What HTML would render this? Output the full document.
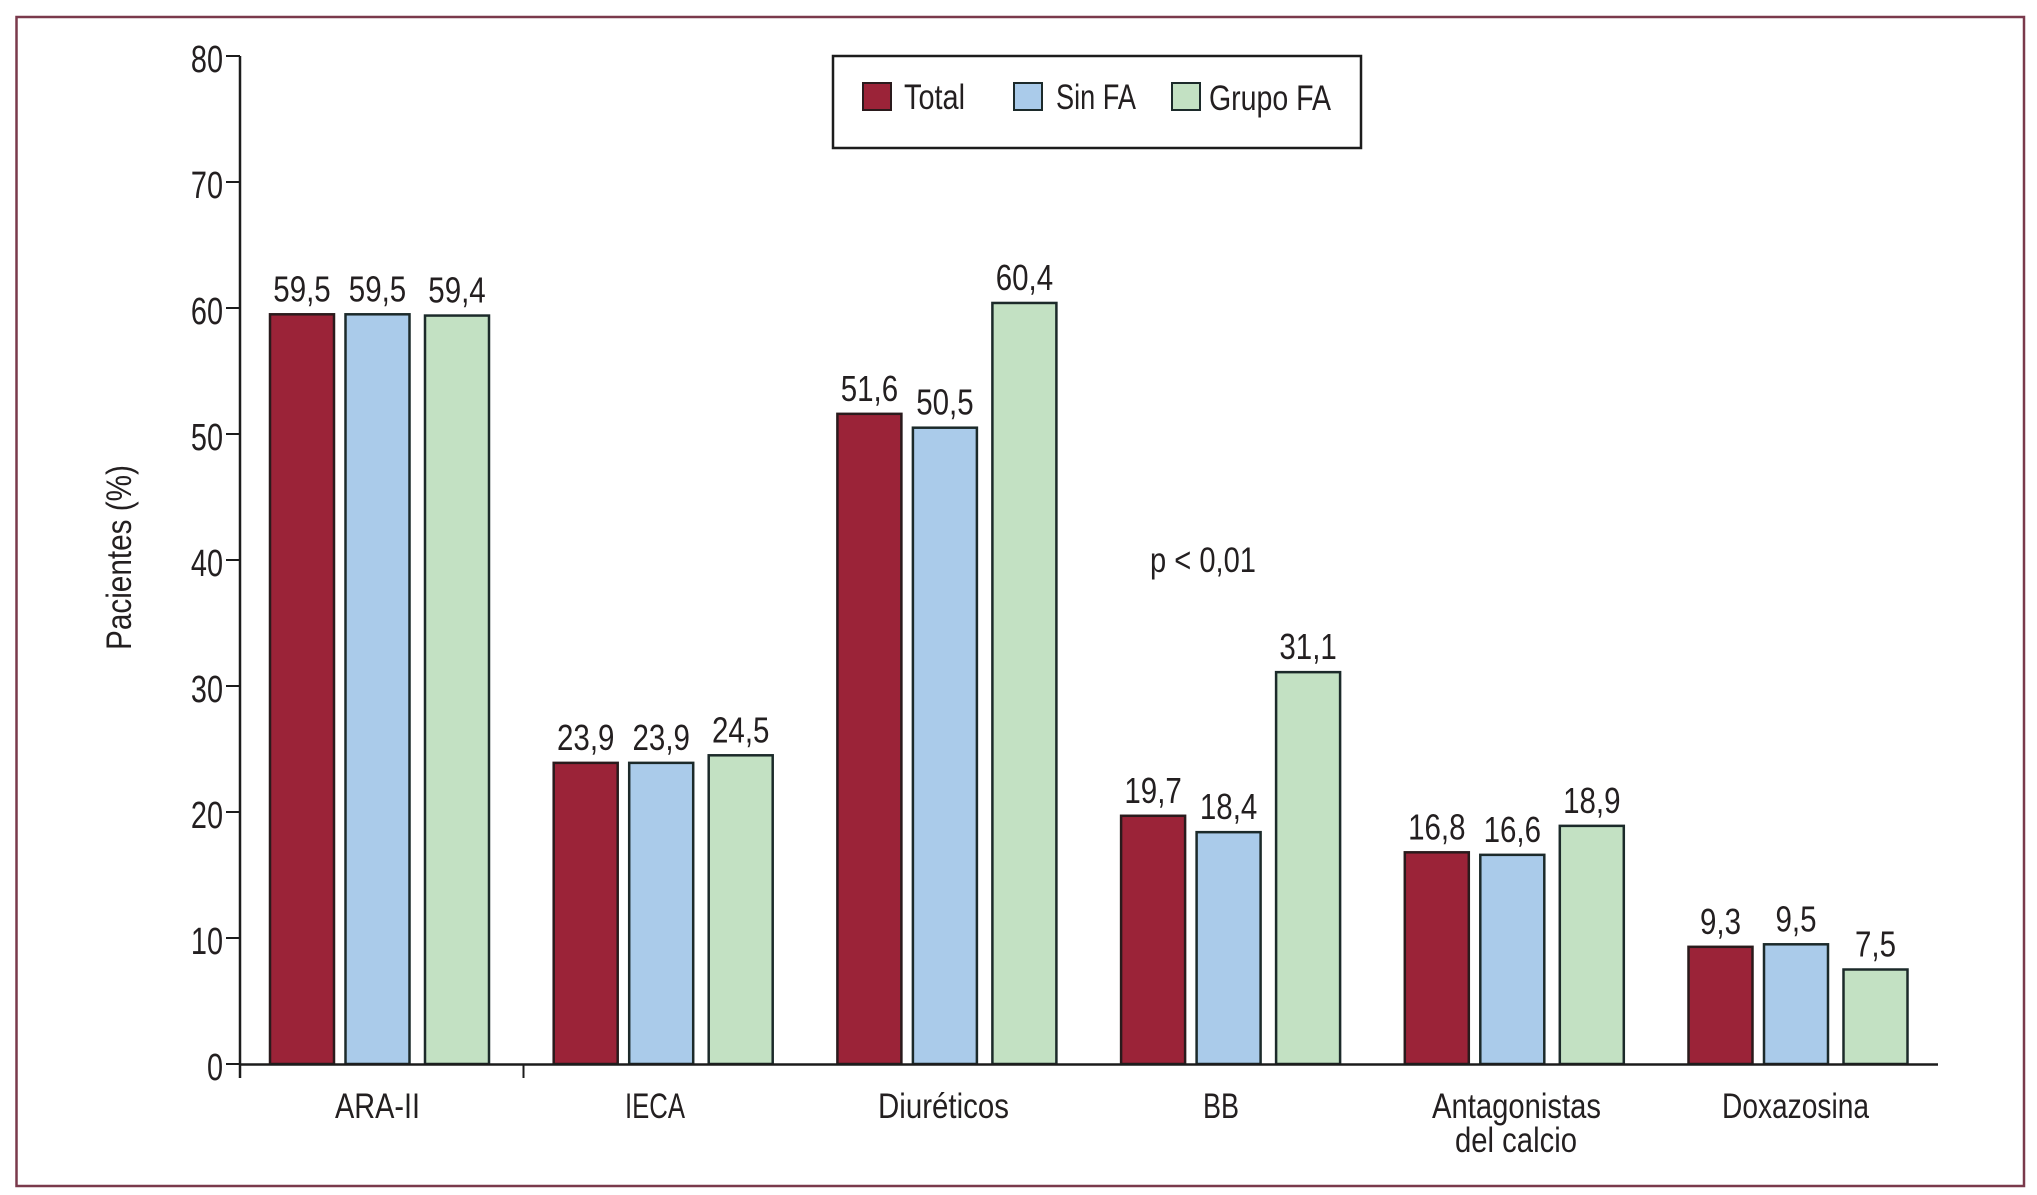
<!DOCTYPE html>
<html lang="es">
<head>
<meta charset="utf-8">
<title>Pacientes (%) por tratamiento</title>
<style>
html,body{margin:0;padding:0;background:#fff;}
svg{display:block;}
text{font-family:"Liberation Sans",sans-serif;fill:#231f20;font-size:35px;}
</style>
</head>
<body>
<svg id="chart" xmlns="http://www.w3.org/2000/svg" width="2037" height="1195" viewBox="0 0 2037 1195">
  <rect x="0" y="0" width="2037" height="1195" fill="#ffffff"/>
  <rect x="16.5" y="17" width="2007.5" height="1169" fill="none" stroke="#7a3a4c" stroke-width="2.5"/>

  <g id="bars"></g>
  <g id="values"></g>
  <g id="y-axis"></g>

  <line x1="240" y1="1064.5" x2="1938" y2="1064.5" stroke="#1c1c1c" stroke-width="2.5"/>
  <line x1="523.5" y1="1064" x2="523.5" y2="1078" stroke="#1c1c1c" stroke-width="2"/>

  <text transform="translate(131,650) rotate(-90)" textLength="185" lengthAdjust="spacingAndGlyphs">Pacientes (%)</text>

  <text x="335" y="1118" textLength="85" lengthAdjust="spacingAndGlyphs">ARA-II</text>
  <text x="625" y="1118" textLength="60" lengthAdjust="spacingAndGlyphs">IECA</text>
  <text x="878" y="1118" textLength="131" lengthAdjust="spacingAndGlyphs">Diuréticos</text>
  <text x="1203" y="1118" textLength="36" lengthAdjust="spacingAndGlyphs">BB</text>
  <text x="1432" y="1118" textLength="169" lengthAdjust="spacingAndGlyphs">Antagonistas</text>
  <text x="1455" y="1152" textLength="122" lengthAdjust="spacingAndGlyphs">del calcio</text>
  <text x="1722" y="1118" textLength="147" lengthAdjust="spacingAndGlyphs">Doxazosina</text>

  <text x="1150" y="572" textLength="106" lengthAdjust="spacingAndGlyphs">p &lt; 0,01</text>

  <g>
    <rect x="833" y="56" width="528" height="92" fill="#ffffff" stroke="#1c1c1c" stroke-width="2.5"/>
    <rect x="863" y="83" width="28" height="27" fill="#9b2338" stroke="#2a1a1c" stroke-width="2"/>
    <text x="904" y="109" textLength="61" lengthAdjust="spacingAndGlyphs">Total</text>
    <rect x="1014" y="83" width="28" height="27" fill="#aacbea" stroke="#1c2a2a" stroke-width="2"/>
    <text x="1056" y="109" textLength="80" lengthAdjust="spacingAndGlyphs">Sin FA</text>
    <rect x="1172" y="83" width="28" height="27" fill="#c3e1c3" stroke="#1c2a2a" stroke-width="2"/>
    <text x="1209" y="110" textLength="122" lengthAdjust="spacingAndGlyphs">Grupo FA</text>
  </g>
</svg>
<script>
const categories = ["ARA-II", "IECA", "Diuréticos", "BB", "Antagonistas del calcio", "Doxazosina"];
const totalValues = [59.5, 23.9, 51.6, 19.7, 16.8, 9.3];
const sinFaValues = [59.5, 23.9, 50.5, 18.4, 16.6, 9.5];
const grupoFaValues = [59.4, 24.5, 60.4, 31.1, 18.9, 7.5];
const yTickLabels = [0, 10, 20, 30, 40, 50, 60, 70, 80];

const SVG_NS = "http://www.w3.org/2000/svg";
const seriesList = [
  { key: "total", values: totalValues, fill: "#9b2338", stroke: "#2a1a1c" },
  { key: "sin-fa", values: sinFaValues, fill: "#aacbea", stroke: "#1c2a2a" },
  { key: "grupo-fa", values: grupoFaValues, fill: "#c3e1c3", stroke: "#1c2a2a" }
];

function yScale(v) { return 1064 - v * 12.6; }
function groupLeft(i) { return 269 + i * 283.7; }
function seriesOffset(s) { return s * 75.5 + (s === 2 ? 4 : 0); }
const BAR_WIDTH = 66;

function slug(s) {
  return s.toLowerCase().normalize("NFD").replace(/[\u0300-\u036f]/g, "").replace(/[^a-z0-9]+/g, "-");
}

const barsG = document.getElementById("bars");
const valuesG = document.getElementById("values");
const yAxisG = document.getElementById("y-axis");

seriesList.forEach(function (series, s) {
  series.values.forEach(function (v, i) {
    const x = groupLeft(i) + seriesOffset(s);
    const y = yScale(v);
    const rect = document.createElementNS(SVG_NS, "rect");
    rect.setAttribute("x", x + 1);
    rect.setAttribute("y", y);
    rect.setAttribute("width", BAR_WIDTH - 2);
    rect.setAttribute("height", yScale(0) - y);
    rect.setAttribute("fill", series.fill);
    rect.setAttribute("stroke", series.stroke);
    rect.setAttribute("stroke-width", "2.5");
    
    
    barsG.appendChild(rect);

    const label = document.createElementNS(SVG_NS, "text");
    label.setAttribute("transform", "translate(" + (x + BAR_WIDTH / 2) + "," + (y - 13) + ") scale(0.82,1)");
    label.setAttribute("text-anchor", "middle");
    label.setAttribute("style", "font-size:36px");
    label.textContent = v.toFixed(1).replace(".", ",");
    
    
    valuesG.appendChild(label);
  });
});

const axisLine = document.createElementNS(SVG_NS, "line");
axisLine.setAttribute("x1", 240);
axisLine.setAttribute("x2", 240);
axisLine.setAttribute("y1", yScale(80));
axisLine.setAttribute("y2", 1078);
axisLine.setAttribute("stroke", "#1c1c1c");
axisLine.setAttribute("stroke-width", "2.5");


yAxisG.appendChild(axisLine);

yTickLabels.forEach(function (t) {
  const tick = document.createElementNS(SVG_NS, "line");
  tick.setAttribute("x1", 226);
  tick.setAttribute("x2", 240);
  tick.setAttribute("y1", yScale(t));
  tick.setAttribute("y2", yScale(t));
  tick.setAttribute("stroke", "#1c1c1c");
  tick.setAttribute("stroke-width", "2");
  
  
  yAxisG.appendChild(tick);

  const tickLabel = document.createElementNS(SVG_NS, "text");
  tickLabel.setAttribute("transform", "translate(223," + (yScale(t) + 16) + ") scale(0.76,1)");
  tickLabel.setAttribute("text-anchor", "end");
  tickLabel.setAttribute("style", "font-size:38px");
  tickLabel.textContent = String(t);
  
  
  yAxisG.appendChild(tickLabel);
});
</script>
</body>
</html>
